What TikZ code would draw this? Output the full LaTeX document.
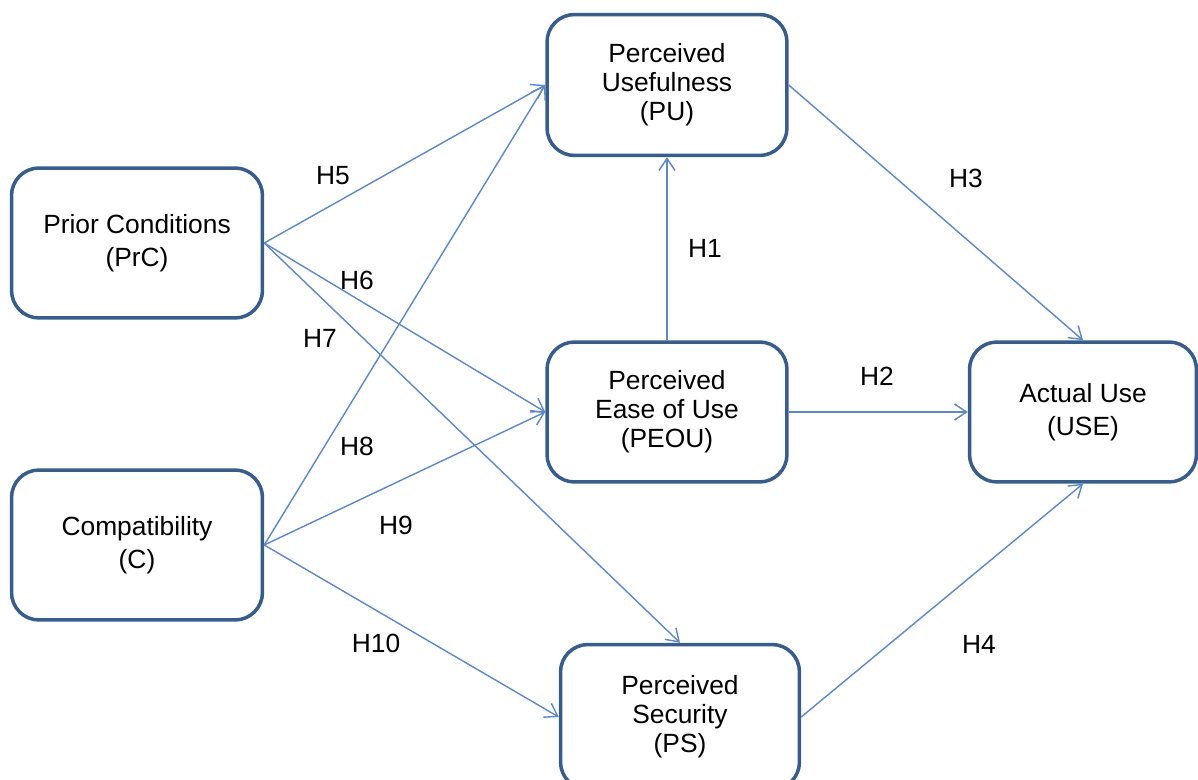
\documentclass[tikz,border=0pt]{standalone}
\usepackage{fontspec}
\setmainfont{Liberation Sans}
\usetikzlibrary{arrows.meta}

\definecolor{boxblue}{RGB}{56,93,138}
\definecolor{lineblue}{RGB}{94,135,196}

\tikzset{
	construct/.style={draw=boxblue, line width=2pt, rounded corners=0.55cm,
		fill=white, align=center, inner sep=2pt,
		font=\fontsize{15}{16.5}\selectfont},
	path/.style={draw=lineblue, line width=0.8pt,
		-{Straight Barb[length=2.4mm,width=3.2mm]}},
	hyp/.style={font=\fontsize{15}{17}\selectfont}
}

\begin{document}
\begin{tikzpicture}[x=0.02cm,y=-0.02cm]
		\useasboundingbox (0,0) rectangle (1198,780);
		\node[construct, minimum width=5.02cm, minimum height=3cm] (prc) at (137,243) {Prior Conditions\\[2.5pt](PrC)};
		\node[construct, minimum width=5.02cm, minimum height=3cm] (c) at (137,545) {Compatibility\\[2.5pt](C)};
		\node[construct, minimum width=4.8cm, minimum height=2.82cm] (pu) at (667,85) {Perceived\\Usefulness\\(PU)};
		\node[construct, minimum width=4.8cm, minimum height=2.8cm] (peou) at (667,412) {Perceived\\Ease of Use\\(PEOU)};
		\node[construct, minimum width=4.78cm, minimum height=2.9cm] (ps) at (680,717) {Perceived\\Security\\(PS)};
		\node[construct, minimum width=4.54cm, minimum height=2.8cm] (use) at (1083,412) {Actual Use\\[2.5pt](USE)};
		\draw[path] (prc.east) -- (pu.west);
		\draw[path] (prc.east) -- (peou.west);
		\draw[path] (prc.east) -- (ps.north);
		\draw[path] (c.east) -- (pu.west);
		\draw[path] (c.east) -- (peou.west);
		\draw[path] (c.east) -- (ps.west);
		\draw[path] (peou.north) -- (pu.south);
		\draw[path] (peou.east) -- (use.west);
		\draw[path] (pu.east) -- (use.north);
		\draw[path] (ps.east) -- (use.south);
		\node[hyp] (h1) at (705,248) {H1};
		\node[hyp] (h2) at (877,376) {H2};
		\node[hyp] (h3) at (966,178) {H3};
		\node[hyp] (h4) at (979,644) {H4};
		\node[hyp] (h5) at (333,176) {H5};
		\node[hyp] (h6) at (357,280) {H6};
		\node[hyp] (h7) at (320,338) {H7};
		\node[hyp] (h8) at (357,446) {H8};
		\node[hyp] (h9) at (396,525) {H9};
		\node[hyp] (h10) at (376,643) {H10};
	\end{tikzpicture}
\end{document}
